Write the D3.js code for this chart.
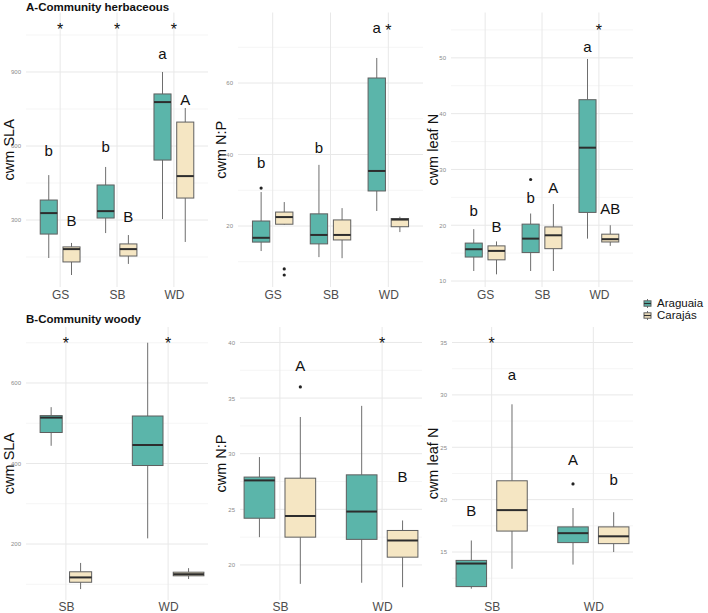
<!DOCTYPE html>
<html><head><meta charset="utf-8">
<script src="https://cdn.jsdelivr.net/npm/d3@7"></script>
<style>body{margin:0;background:#fff}svg{display:block}</style>
</head><body><svg id="c" width="708" height="613"></svg>
<script>
// ---------- DATA ----------
const groups = ["Araguaia", "Carajás"];
const herbCats = ["GS", "SB", "WD"];
const woodyCats = ["SB", "WD"];

// five-number summaries per category: [lower whisker, Q1, median, Q3, upper whisker]
const slaHerbAraguaia = [[146,243,328,381,482],[247,308,336,442,515],[304,543,778,811,900]];
const slaHerbCarajas  = [[77,130,182,191,207],[122,154,182,203,239],[211,389,478,697,754]];
const npHerbAraguaia  = [[13.0,15.5,16.7,21.4,29.5],[11.3,15.0,17.5,23.4,37.1],[24.2,29.8,35.4,61.4,67.0]];
const npHerbCarajas   = [[20.3,20.5,22.5,23.9,26.7],[11.0,16.1,17.5,21.7,25.0],[18.3,19.8,21.8,22.1,22.6]];
const nHerbAraguaia   = [[11.8,14.3,15.7,16.8,19.3],[11.8,15.1,17.6,20.2,22.1],[17.6,22.3,33.9,42.5,49.8]];
const nHerbCarajas    = [[11.2,13.8,15.4,16.3,17.1],[11.8,15.8,18.2,19.7,23.8],[16.3,17.0,17.5,18.4,20.0]];

const slaWoodyAraguaia = [[444,477,514,519,540],[214,395,446,518,700]];
const slaWoodyCarajas  = [[88,105,117,131,153],[113,121,125,130,140]];
const npWoodyAraguaia  = [[22.5,24.2,27.6,27.9,29.7],[18.4,22.3,24.8,28.1,34.3]];
const npWoodyCarajas   = [[18.3,22.5,24.4,27.8,33.3],[18.0,20.7,22.2,23.1,24.0]];
const nWoodyAraguaia   = [[11.5,11.7,13.9,14.2,16.1],[13.8,15.9,16.8,17.4,19.2]];
const nWoodyCarajas    = [[13.4,17.0,19.0,21.8,29.1],[15.0,15.8,16.5,17.4,18.8]];

// outliers: [category, group index, value]
const npHerbOutliers  = [["GS",0,30.6],["GS",1,8.0],["GS",1,6.3]];
const nHerbOutliers   = [["SB",0,28.2]];
const npWoodyOutliers = [["SB",1,36.0]];
const nWoodyOutliers  = [["WD",0,21.5]];

// significance letters: [category, group index, text, value]
const slaHerbLetters = [["GS",0,"b",580],["GS",1,"B",296],["SB",0,"b",596],["SB",1,"B",312],["WD",0,"a",969],["WD",1,"A",790]];
const npHerbLetters  = [["GS",0,"b",37.6],["SB",0,"b",41.8],["WD",0,"a",75.1]];
const nHerbLetters   = [["GS",0,"b",22.7],["GS",1,"B",19.8],["SB",0,"b",25.0],["SB",1,"A",26.8],["WD",0,"a",51.8],["WD",1,"AB",22.9]];
const npWoodyLetters = [["SB",1,"A",37.9],["WD",1,"B",27.9]];
const nWoodyLetters  = [["SB",0,"B",19.0],["SB",1,"a",31.8],["WD",0,"A",23.8],["WD",1,"b",21.9]];

// asterisks: [category, value]
const slaHerbStars  = [["GS",1090],["SB",1090],["WD",1090]];
const npHerbStars   = [["WD",75.7]];
const nHerbStars    = [["WD",55.7]];
const slaWoodyStars = [["SB",709],["WD",709]];
const npWoodyStars  = [["WD",40.3]];
const nWoodyStars   = [["SB",35.3]];

// tick values
const slaHerbTicks = [300,600,900],  slaHerbMinor = [150,450,750,1050];
const npHerbTicks  = [20,40,60],     npHerbMinor  = [10,30,50,70];
const nHerbTicks   = [10,20,30,40,50], nHerbMinor = [15,25,35,45,55];
const slaWoodyTicks = [200,400,600], slaWoodyMinor = [100,300,500,700];
const npWoodyTicks = [20,25,30,35,40], npWoodyMinor = [22.5,27.5,32.5,37.5];
const nWoodyTicks  = [15,20,25,30,35], nWoodyMinor  = [12.5,17.5,22.5,27.5,32.5];

// ---------- LAYOUT ----------
const FONT = '"Liberation Sans", Arial, Helvetica, sans-serif';
const fills = ["#5BB5AA", "#F5E6C3"];
const TOP = {y0: 12.5, y1: 287, pad: 0.6, lp: 3.5};
const BOT = {y0: 327, y1: 600, pad: 0.39, lp: 2};

const panels = [
  {row: TOP, cats: herbCats, boxes: [slaHerbAraguaia, slaHerbCarajas], out: [], letters: slaHerbLetters, stars: slaHerbStars,
   ticks: slaHerbTicks, minor: slaHerbMinor, dom: [28.4, 1141.2], x0: 26, x1: 208, title: "cwm SLA", tx: 9},
  {row: TOP, cats: herbCats, boxes: [npHerbAraguaia, npHerbCarajas], out: npHerbOutliers, letters: npHerbLetters, stars: npHerbStars,
   ticks: npHerbTicks, minor: npHerbMinor, dom: [2.94, 79.72], x0: 238, x1: 423, title: "cwm N:P", tx: 221},
  {row: TOP, cats: herbCats, boxes: [nHerbAraguaia, nHerbCarajas], out: nHerbOutliers, letters: nHerbLetters, stars: nHerbStars,
   ticks: nHerbTicks, minor: nHerbMinor, dom: [8.93, 58.13], x0: 451, x1: 633, title: "cwm leaf N", tx: 433},
  {row: BOT, cats: woodyCats, boxes: [slaWoodyAraguaia, slaWoodyCarajas], out: [], letters: [], stars: slaWoodyStars,
   ticks: slaWoodyTicks, minor: slaWoodyMinor, dom: [60.9, 739.1], x0: 26, x1: 208, title: "cwm SLA", tx: 9, wf: {SB: 0.72}},
  {row: BOT, cats: woodyCats, boxes: [npWoodyAraguaia, npWoodyCarajas], out: npWoodyOutliers, letters: npWoodyLetters, stars: npWoodyStars,
   ticks: npWoodyTicks, minor: npWoodyMinor, dom: [16.85, 41.39], x0: 240, x1: 422, title: "cwm N:P", tx: 221},
  {row: BOT, cats: woodyCats, boxes: [nWoodyAraguaia, nWoodyCarajas], out: nWoodyOutliers, letters: nWoodyLetters, stars: nWoodyStars,
   ticks: nWoodyTicks, minor: nWoodyMinor, dom: [10.42, 36.48], x0: 452, x1: 633, title: "cwm leaf N", tx: 433}
];

const svg = d3.select("#c").style("font-family", FONT);

svg.append("text").attr("x", 26).attr("y", 10.5).attr("font-size", 11.5).attr("font-weight", "bold")
  .attr("fill", "#111").text("A-Community herbaceous");
svg.append("text").attr("x", 26).attr("y", 323).attr("font-size", 11.5).attr("font-weight", "bold")
  .attr("fill", "#111").text("B-Community woody");

panels.forEach(p => {
  const r = p.row;
  const g = svg.append("g");
  const x = d3.scalePoint().domain(p.cats).range([p.x0, p.x1]).padding(r.pad);
  const y = d3.scaleLinear().domain(p.dom).range([r.y1, r.y0]);
  const step = x.step();
  const wf = c => (p.wf && p.wf[c]) || 1;
  const cx = (c, gi) => x(c) + (gi === 0 ? -1 : 1) * 0.2 * step * wf(c);
  const bw = c => 0.3 * step * wf(c);

  // grid
  g.selectAll(".mn").data(p.minor).join("line")
    .attr("x1", p.x0).attr("x2", p.x1).attr("y1", d => y(d)).attr("y2", d => y(d))
    .attr("stroke", "#f3f3f3").attr("stroke-width", 0.8);
  g.selectAll(".mj").data(p.ticks).join("line")
    .attr("x1", p.x0).attr("x2", p.x1).attr("y1", d => y(d)).attr("y2", d => y(d))
    .attr("stroke", "#e8e8e8").attr("stroke-width", 1);
  g.selectAll(".vg").data(p.cats).join("line")
    .attr("x1", d => x(d)).attr("x2", d => x(d)).attr("y1", r.y0).attr("y2", r.y1)
    .attr("stroke", "#e8e8e8").attr("stroke-width", 1);

  // axes
  const ya = g.append("g").attr("transform", `translate(${p.x0},0)`)
    .call(d3.axisLeft(y).tickValues(p.ticks).tickSize(0).tickPadding(5));
  ya.select(".domain").remove();
  ya.selectAll("text").attr("font-size", 6).attr("fill", "#8a8a8a").attr("font-family", FONT);
  const xa = g.append("g").attr("transform", `translate(0,${r.y1})`)
    .call(d3.axisBottom(x).tickSize(0).tickPadding(r.lp));
  xa.select(".domain").remove();
  xa.selectAll("text").attr("font-size", 12).attr("fill", "#4d4d4d").attr("font-family", FONT);

  // axis title
  g.append("text").attr("transform", `translate(${p.tx},${(r.y0 + r.y1) / 2}) rotate(-90)`)
    .attr("text-anchor", "middle").attr("dy", "0.36em").attr("font-size", 14.5).attr("fill", "#111")
    .text(p.title);

  // boxes
  p.boxes.forEach((arr, gi) => {
    const items = arr.map((s, i) => ({c: p.cats[i], s}));
    const bg = g.append("g");
    bg.selectAll(".wh").data(items).join("line")
      .attr("x1", d => cx(d.c, gi)).attr("x2", d => cx(d.c, gi))
      .attr("y1", d => y(d.s[4])).attr("y2", d => y(d.s[3]))
      .attr("stroke", "#6e6e6e").attr("stroke-width", 1);
    bg.selectAll(".wl").data(items).join("line")
      .attr("x1", d => cx(d.c, gi)).attr("x2", d => cx(d.c, gi))
      .attr("y1", d => y(d.s[1])).attr("y2", d => y(d.s[0]))
      .attr("stroke", "#6e6e6e").attr("stroke-width", 1);
    bg.selectAll("rect").data(items).join("rect")
      .attr("x", d => cx(d.c, gi) - bw(d.c) / 2).attr("width", d => bw(d.c))
      .attr("y", d => y(d.s[3])).attr("height", d => Math.max(1, y(d.s[1]) - y(d.s[3])))
      .attr("fill", fills[gi]).attr("stroke", "#5f5f5f").attr("stroke-width", 1);
    bg.selectAll(".md").data(items).join("line")
      .attr("x1", d => cx(d.c, gi) - bw(d.c) / 2).attr("x2", d => cx(d.c, gi) + bw(d.c) / 2)
      .attr("y1", d => y(d.s[2])).attr("y2", d => y(d.s[2]))
      .attr("stroke", "#2d2d2d").attr("stroke-width", 2);
  });

  // outliers
  g.selectAll(".ol").data(p.out).join("circle")
    .attr("cx", d => cx(d[0], d[1])).attr("cy", d => y(d[2])).attr("r", 1.6).attr("fill", "#222");

  // letters
  const dyOf = t => t === "a" ? "0.27em" : "0.36em";
  g.selectAll(".lt").data(p.letters).join("text")
    .attr("x", d => cx(d[0], d[1])).attr("y", d => y(d[3])).attr("dy", d => dyOf(d[2]))
    .attr("text-anchor", "middle").attr("font-size", 15).attr("fill", "#111").text(d => d[2]);
  g.selectAll(".st").data(p.stars).join("text")
    .attr("x", d => x(d[0])).attr("y", d => y(d[1])).attr("dy", "0.6em")
    .attr("text-anchor", "middle").attr("font-size", 16).attr("fill", "#111").text("*");
});

// legend
const lg = svg.append("g");
groups.forEach((name, i) => {
  const cy = 303.5 + i * 12, kx = 647.5;
  lg.append("line").attr("x1", kx).attr("x2", kx).attr("y1", cy - 4.5).attr("y2", cy + 4.5)
    .attr("stroke", "#6e6e6e");
  lg.append("rect").attr("x", kx - 3.5).attr("y", cy - 2.7).attr("width", 7).attr("height", 5.4)
    .attr("fill", fills[i]).attr("stroke", "#5f5f5f");
  lg.append("line").attr("x1", kx - 3.5).attr("x2", kx + 3.5).attr("y1", cy).attr("y2", cy)
    .attr("stroke", "#2d2d2d").attr("stroke-width", 1.2);
  lg.append("text").attr("x", 657).attr("y", cy).attr("dy", "0.34em").attr("font-size", 11.5)
    .attr("fill", "#111").text(name);
});
</script></body></html>
